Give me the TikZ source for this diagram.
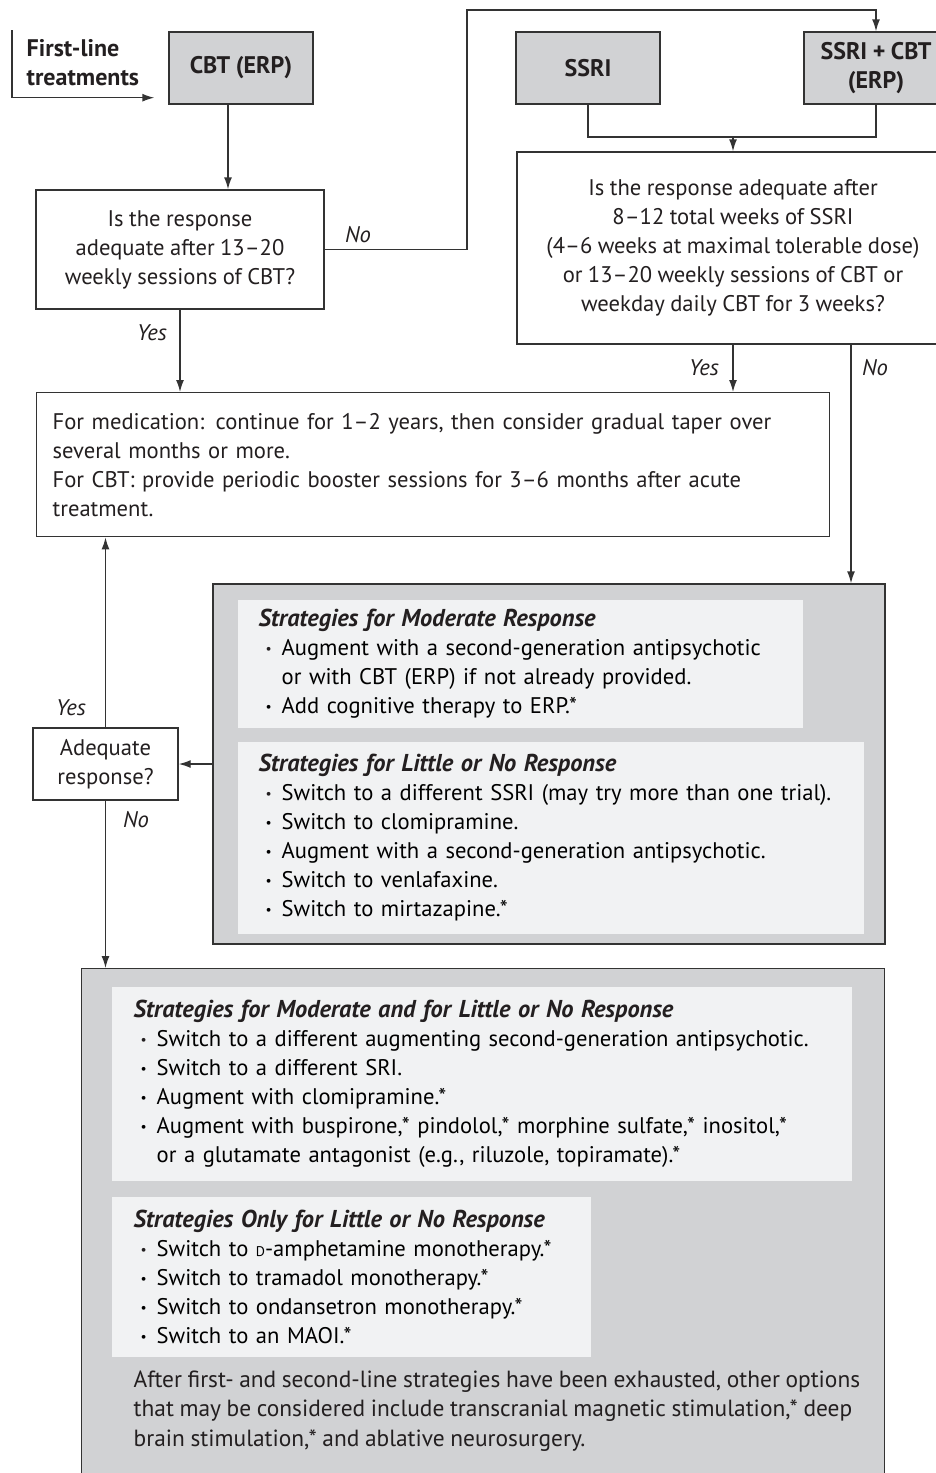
\documentclass[tikz,border=0pt]{standalone}
\usepackage{graphicx}
\usepackage{fontspec}
\setmainfont{PT Sans}[WordSpace=0.9]
\usetikzlibrary{arrows.meta,positioning}
\definecolor{boxgray}{HTML}{D1D2D4}
\definecolor{panegray}{HTML}{F1F2F3}
\definecolor{linegray}{HTML}{333333}
\definecolor{textdark}{HTML}{231F20}
\newcommand{\itm}{\par\hangindent=11.5pt\hangafter=1\noindent\hspace*{3.5pt}\makebox[8pt][l]{\raisebox{0.2ex}{\scalebox{0.6}{\textbullet}}}}
\newcommand{\hdg}[1]{{\fontsize{12.2}{14.5}\selectfont\bfseries\itshape #1}}
\newcommand{\dsc}{{\scriptsize D}}

\begin{document}
\fontsize{11.3}{14.5}\selectfont\color{textdark}
\begin{tikzpicture}[x=0.5pt,y=-0.5pt,line width=0.7pt,
    >={Latex[length=6pt,width=4pt]}]
  \tikzstyle{boxG}=[draw=linegray,fill=boxgray,font=\fontsize{12}{14.5}\selectfont\bfseries,align=center,minimum width=72pt,minimum height=36pt,inner sep=2pt]
  \tikzstyle{boxW}=[draw=linegray,fill=white,align=center,inner sep=2pt]
  \tikzstyle{paneL}=[fill=panegray,anchor=north west,inner xsep=10.5pt,inner ysep=0pt,font=\fontsize{11.3}{14.5}\selectfont,align=left]
  \tikzstyle{lbl}=[font=\itshape,inner sep=0pt]
  \tikzstyle{link}=[draw=linegray]
  \tikzstyle{arr}=[->,draw=linegray]

  \useasboundingbox (0,0) rectangle (936,1473);
  \clip (0,0) rectangle (936,1473);

  % treatment boxes
  \node[anchor=west,align=left,font=\fontsize{12}{14.5}\selectfont\bfseries,inner sep=0pt] (firstline) at (26,63) {First-line\\treatments};
  \coordinate (flstart) at (12,30);
  \node[boxG] (cbt) at (241,68) {CBT (ERP)};
  \node[boxG] (ssri) at (588,68) {SSRI};
  \node[boxG] (ssricbt) at (876,68) {SSRI + CBT\\(ERP)};

  % questions
  \node[boxW,minimum width=144pt,minimum height=59.5pt] (q1) at (180,249.5)
    {Is the response\\adequate after 13–20\\weekly sessions of CBT?};
  \node[boxW,minimum width=216pt,minimum height=96pt] (q2) at (733,248)
    {Is the response adequate after\\8–12 total weeks of SSRI\\(4–6 weeks at maximal tolerable dose)\\or 13–20 weekly sessions of CBT or\\weekday daily CBT for 3 weeks?};
  \node[boxW,anchor=north west,text width=380.5pt,inner xsep=8pt,minimum height=72pt,align=left] (result) at (36,392)
    {For medication: continue for 1–2 years, then consider gradual taper over\\several months or more.\\For CBT: provide periodic booster sessions for 3–6 months after acute\\treatment.};
  \node[boxW,minimum width=72.5pt,minimum height=36pt] (adequate) at (105.5,764) {Adequate\\response?};

  % second-line strategies
  \node[draw=linegray,fill=boxgray,minimum width=336pt,minimum height=180pt] (strat1) at (549,764) {};
  \node[paneL,text width=261.5pt,minimum height=64pt] (pane1) at (237,599)
    {\hdg{Strategies for Moderate Response}
     \itm Augment with a second-generation antipsychotic\newline or with CBT (ERP) if not already provided.
     \itm Add cognitive therapy to ERP.*\par};
  \node[paneL,text width=292pt,minimum height=96pt] (pane2) at (237,741)
    {\hdg{Strategies for Little or No Response}
     \itm Switch to a different SSRI (may try more than one trial).
     \itm Switch to clomipramine.
     \itm Augment with a second-generation antipsychotic.
     \itm Switch to venlafaxine.
     \itm Switch to mirtazapine.*\par};

  % third-line strategies
  \node[draw=linegray,fill=boxgray,anchor=north west,minimum width=401.5pt,minimum height=300pt] (strat2) at (81,968) {};
  \node[paneL,inner xsep=11pt,text width=348pt,minimum height=97pt] (pane3) at (111,986)
    {\hdg{Strategies for Moderate and for Little or No Response}
     \itm Switch to a different augmenting second-generation antipsychotic.
     \itm Switch to a different SRI.
     \itm Augment with clomipramine.*
     \itm Augment with buspirone,* pindolol,* morphine sulfate,* inositol,*\newline or a glutamate antagonist (e.g., riluzole, topiramate).*\par};
  \node[paneL,inner xsep=11pt,text width=217.5pt,minimum height=80pt] (pane4) at (111,1196)
    {\hdg{Strategies Only for Little or No Response}
     \itm Switch to \dsc-amphetamine monotherapy.*
     \itm Switch to tramadol monotherapy.*
     \itm Switch to ondansetron monotherapy.*
     \itm Switch to an MAOI.*\par};
  \node[anchor=west,align=left,font=\fontsize{11.7}{14.6}\selectfont,inner sep=0pt] (options) at (133,1411)
    {After first- and second-line strategies have been exhausted, other options\\that may be considered include transcranial magnetic stimulation,* deep\\brain stimulation,* and ablative neurosurgery.};

  % connectors
  \draw[arr] (flstart) |- ([xshift=-7pt,yshift=3.5pt]cbt.south west);
  \draw[arr] ([xshift=-6.5pt]cbt.south) -- ([xshift=-6.5pt]cbt.south |- q1.north);
  \coordinate (topbend) at (467,10);
  \draw[arr] (q1.east) -| (topbend) -| (ssricbt.north);
  \coordinate (joinL) at (588,137);
  \draw[link] (ssri.south) -- (joinL) -| (ssricbt.south);
  \draw[arr] (joinL -| q2.north) -- (q2.north);
  \draw[arr] (q1.south) -- (q1.south |- result.north);
  \draw[arr] (q2.south) -- (q2.south |- result.north);
  \draw[arr] ([xshift=59pt]q2.south) -- ([xshift=59pt]q2.south |- strat1.north);
  \draw[arr] (strat1.west) -- (adequate.east);
  \draw[arr] (adequate.north) -- (adequate.north |- result.south);
  \draw[arr] (adequate.south) -- (adequate.south |- strat2.north);

  % labels
  \node[lbl] (noq1) at (358,235) {No};
  \node[lbl] (yesq1) at (152,333) {Yes};
  \node[lbl] (yesq2) at (704,368) {Yes};
  \node[lbl] (noq2) at (875,368) {No};
  \node[lbl] (yesad) at (71,708) {Yes};
  \node[lbl] (noad) at (136,820) {No};
\end{tikzpicture}
\end{document}
